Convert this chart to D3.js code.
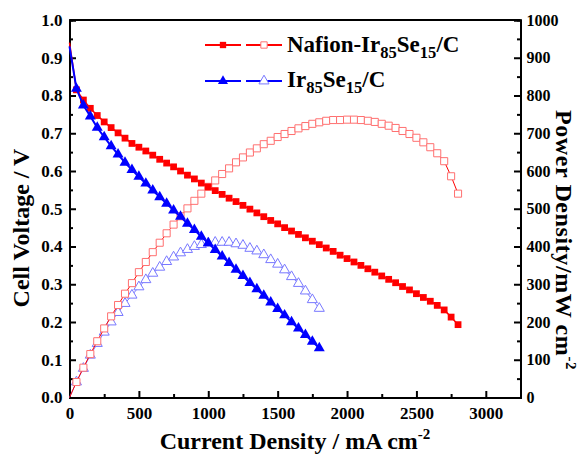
<!DOCTYPE html>
<html>
<head>
<meta charset="utf-8">
<script src="https://cdn.jsdelivr.net/npm/d3@7"></script>
<style>
	body { margin: 0; background: #fff; }
	text { font-family: "Liberation Serif", "Times New Roman", serif; font-weight: bold; fill: #000; }
</style>
</head>
<body>
<svg id="chart" width="585" height="457"></svg>
<script>
// current density, mA cm-2
var current_nafion = [0, 50, 100, 150, 200, 250, 300, 350, 400, 450, 500, 550, 600, 650, 700, 750, 800, 850, 900, 950,
	1000, 1050, 1100, 1150, 1200, 1250, 1300, 1350, 1400, 1450, 1500, 1550, 1600, 1650, 1700, 1750, 1800, 1850, 1900, 1950,
	2000, 2050, 2100, 2150, 2200, 2250, 2300, 2350, 2400, 2450, 2500, 2550, 2600, 2650, 2700, 2750, 2800];
var voltage_nafion = [0.940, 0.815, 0.788, 0.766, 0.747, 0.730, 0.715, 0.701, 0.687, 0.673, 0.663, 0.653, 0.642, 0.631, 0.621, 0.611, 0.600, 0.589, 0.579, 0.568,
	0.558, 0.548, 0.538, 0.528, 0.519, 0.509, 0.499, 0.489, 0.479, 0.469, 0.460, 0.450, 0.441, 0.432, 0.423, 0.414, 0.405, 0.396, 0.387, 0.377,
	0.368, 0.359, 0.350, 0.341, 0.332, 0.322, 0.313, 0.304, 0.294, 0.285, 0.275, 0.265, 0.255, 0.244, 0.232, 0.213, 0.193];
var power_nafion = [0, 41, 79, 115, 149, 183, 215, 245, 275, 303, 332, 359, 385, 410, 435, 458, 480, 501, 521, 540,
	558, 575, 592, 607, 623, 636, 649, 660, 671, 680, 690, 698, 706, 713, 719, 725, 729, 733, 735, 735,
	736, 736, 735, 733, 730, 725, 720, 714, 706, 698, 688, 676, 663, 647, 626, 586, 540];

var current_ir = [0, 50, 100, 150, 200, 250, 300, 350, 400, 450, 500, 550, 600, 650, 700, 750, 800, 850, 900, 950,
	1000, 1050, 1100, 1150, 1200, 1250, 1300, 1350, 1400, 1450, 1500, 1550, 1600, 1650, 1700, 1750, 1800];
var voltage_ir = [0.930, 0.818, 0.774, 0.745, 0.715, 0.690, 0.666, 0.644, 0.622, 0.603, 0.585, 0.567, 0.549, 0.531, 0.514, 0.496, 0.479, 0.461, 0.444, 0.426,
	0.409, 0.391, 0.374, 0.357, 0.339, 0.322, 0.304, 0.287, 0.270, 0.252, 0.235, 0.218, 0.200, 0.183, 0.166, 0.148, 0.131];
var power_ir = [0, 41, 77, 112, 143, 173, 200, 225, 249, 271, 293, 312, 329, 345, 360, 372, 383, 392, 400, 405,
	409, 411, 411, 411, 407, 403, 395, 388, 378, 365, 353, 338, 320, 302, 282, 259, 236];

var x_ticks = [0, 500, 1000, 1500, 2000, 2500, 3000];
var v_ticks = [0.0, 0.1, 0.2, 0.3, 0.4, 0.5, 0.6, 0.7, 0.8, 0.9, 1.0];
var p_ticks = [0, 100, 200, 300, 400, 500, 600, 700, 800, 900, 1000];

var plot_left = 69.5, plot_right = 520.5, plot_top = 20, plot_bottom = 397.5;
var red = "#ff0000", red_light = "#ff7070", blue = "#0000ff", blue_light = "#7878ff";

var svg = d3.select("#chart");

var x = d3.scaleLinear().domain([0, 3250]).range([plot_left, plot_right]);
var yv = d3.scaleLinear().domain([0, 1]).range([plot_bottom, plot_top]);
var yp = d3.scaleLinear().domain([0, 1000]).range([plot_bottom, plot_top]);

// minor ticks first
svg.append("g").attr("transform", "translate(0," + plot_bottom + ")")
	.call(d3.axisBottom(x).tickValues([250, 750, 1250, 1750, 2250, 2750, 3250]).tickSize(-3.5).tickFormat(""));
svg.append("g").attr("transform", "translate(" + plot_left + ",0)")
	.call(d3.axisLeft(yv).tickValues([0.05, 0.15, 0.25, 0.35, 0.45, 0.55, 0.65, 0.75, 0.85, 0.95]).tickSize(-3.5).tickFormat(""));
svg.append("g").attr("transform", "translate(" + plot_right + ",0)")
	.call(d3.axisRight(yp).tickValues([50, 150, 250, 350, 450, 550, 650, 750, 850, 950]).tickSize(-3.5).tickFormat(""));

var xAxis = svg.append("g").attr("transform", "translate(0," + plot_bottom + ")")
	.call(d3.axisBottom(x).tickValues(x_ticks).tickSize(-6.5).tickPadding(9).tickFormat(d3.format("d")));
var vAxis = svg.append("g").attr("transform", "translate(" + plot_left + ",0)")
	.call(d3.axisLeft(yv).tickValues(v_ticks).tickSize(-6.5).tickPadding(7).tickFormat(d3.format(".1f")));
var pAxis = svg.append("g").attr("transform", "translate(" + plot_right + ",0)")
	.call(d3.axisRight(yp).tickValues(p_ticks).tickSize(-6.5).tickPadding(6).tickFormat(d3.format("d")));

svg.selectAll(".domain").attr("stroke", "#000").attr("stroke-width", 2);
svg.selectAll(".tick line").attr("stroke", "#000").attr("stroke-width", 2);
svg.selectAll(".tick text").style("font-family", '"Liberation Serif", serif').style("font-weight", "bold").style("font-size", "17px");
pAxis.selectAll(".tick text").style("font-size", "16px");

// top frame line
svg.append("line").attr("x1", plot_left).attr("x2", plot_right).attr("y1", plot_top).attr("y2", plot_top)
	.attr("stroke", "#000").attr("stroke-width", 2);

// curves
var nafion = current_nafion.map(function(c, i) { return {c: c, v: voltage_nafion[i], p: power_nafion[i]}; });
var ir = current_ir.map(function(c, i) { return {c: c, v: voltage_ir[i], p: power_ir[i]}; });

function draw_line(data, key, yscale, color, width) {
	svg.append("path").datum(data)
		.attr("fill", "none").attr("stroke", color).attr("stroke-width", width)
		.attr("d", d3.line().x(function(d) { return x(d.c); }).y(function(d) { return yscale(d[key]); }));
}

var square = d3.symbol().type(d3.symbolSquare);
var triangle = d3.symbol().type(d3.symbolTriangle);

function draw_marks(data, key, yscale, sym, size, fill, stroke) {
	svg.append("g").selectAll("path").data(data.slice(1)).enter().append("path")
		.attr("transform", function(d) { return "translate(" + x(d.c) + "," + yscale(d[key]) + ")"; })
		.attr("d", sym.size(size)())
		.attr("fill", fill).attr("stroke", stroke).attr("stroke-width", 1);
}

draw_line(ir, "p", yp, blue_light, 1);
draw_marks(ir, "p", yp, triangle, 44, "#fff", blue_light);
draw_line(nafion, "p", yp, red, 1);
draw_marks(nafion, "p", yp, square, 50, "#fff", red_light);
draw_line(nafion, "v", yv, red, 1.5);
draw_marks(nafion, "v", yv, square, 46, red, "none");
draw_line(ir, "v", yv, blue, 2);
draw_marks(ir, "v", yv, triangle, 52, blue, "none");

// legend
function legend_item(y, color, light, sym, size) {
	[[205, 241], [246, 282]].forEach(function(seg, i) {
		svg.append("line").attr("x1", seg[0]).attr("x2", seg[1]).attr("y1", y).attr("y2", y)
			.attr("stroke", color).attr("stroke-width", 2);
		svg.append("path")
			.attr("transform", "translate(" + ((seg[0] + seg[1]) / 2) + "," + y + ")")
			.attr("d", sym.size(size)())
			.attr("fill", i == 0 ? color : "#fff")
			.attr("stroke", i == 0 ? "none" : light).attr("stroke-width", 1);
	});
}
legend_item(45, red, red_light, square, 40);
legend_item(81, blue, blue_light, triangle, 44);

function sub_text(xpos, ypos, parts, size) {
	var t = svg.append("text").attr("x", xpos).attr("y", ypos).style("font-size", size + "px");
	parts.forEach(function(p) {
		var s = t.append("tspan").text(p[0]);
		if (p[1] == "sub") s.attr("dy", 6).style("font-size", (size * 0.72) + "px");
		if (p[1] == "back") s.attr("dy", -6);
	});
	return t;
}
sub_text(287, 52, [["Nafion-Ir"], ["85", "sub"], ["Se", "back"], ["15", "sub"], ["/C", "back"]], 23);
sub_text(287, 87, [["Ir"], ["85", "sub"], ["Se", "back"], ["15", "sub"], ["/C", "back"]], 23);

// axis titles
var xt = svg.append("text").attr("x", 295).attr("y", 449).attr("text-anchor", "middle").style("font-size", "24px");
xt.append("tspan").text("Current Density / mA cm");
xt.append("tspan").text("-2").attr("dy", -10).style("font-size", "15px");

svg.append("text").attr("transform", "translate(29,228) rotate(-90)").attr("text-anchor", "middle")
	.style("font-size", "24px").text("Cell Voltage / V");

var pt = svg.append("text").attr("transform", "translate(556,240) rotate(90)").attr("text-anchor", "middle")
	.style("font-size", "24px").style("letter-spacing", "0.6px");
pt.append("tspan").text("Power Density/mW cm");
pt.append("tspan").text("-2").attr("dy", -10).style("font-size", "15px");
</script>
</body>
</html>
